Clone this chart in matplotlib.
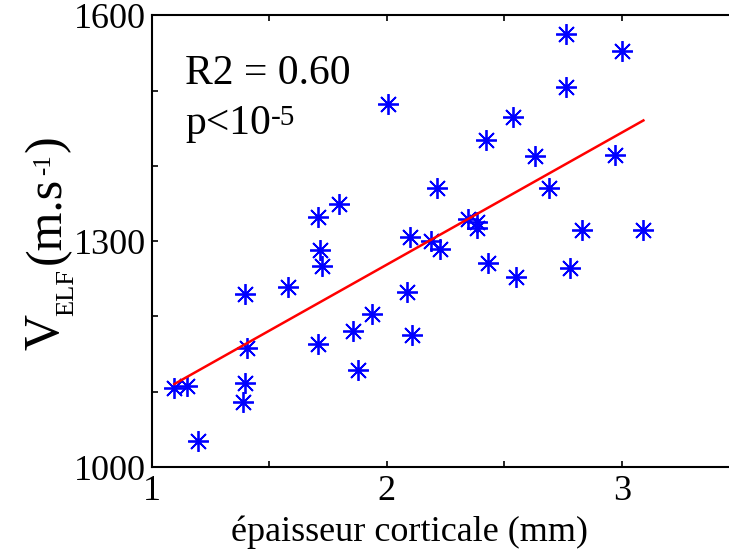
# Cortical thickness vs V_ELF scatter with linear fit

import numpy as np
import matplotlib
matplotlib.use('Agg')
import matplotlib.pyplot as plt
from matplotlib.transforms import IdentityTransform

plt.rcParams['font.family'] = ['Liberation Serif', 'DejaVu Serif']

# Data
epaisseur = [1.097, 1.150, 1.199, 1.398, 1.405, 1.398, 1.390, 1.579,
             1.716, 1.726, 1.709, 1.858, 1.939, 1.879, 2.085, 2.109,
             2.007, 1.709, 1.797, 2.099, 2.214, 2.190,
             2.761, 3.002, 2.761, 2.538, 2.421, 2.631, 2.971, 2.690,
             2.347, 2.383, 2.383, 2.832, 3.091, 2.227,
             2.429, 2.550, 2.779]
v_elf = [1105, 1108, 1035, 1230, 1158, 1112, 1086, 1239,
         1288, 1267, 1163, 1181, 1203, 1129, 1232, 1175,
         1482, 1332, 1349, 1306, 1371, 1300,
         1575, 1553, 1505, 1465, 1435, 1413, 1415, 1371,
         1330, 1326, 1317, 1315, 1315, 1290,
         1271, 1253, 1265]

x = np.array(epaisseur)
y = np.array(v_elf)

# Linear regression
coef = np.polyfit(x, y, 1)
x_fit = np.array([x.min(), x.max()])
y_fit = np.polyval(coef, x_fit)

fig = plt.figure(figsize=(7.291, 5.501), dpi=100)
ax = fig.add_axes([151.5 / 729, 83 / 550, 588 / 729, 451.5 / 550])

ax.plot(x, y, linestyle='none', marker=(8, 2, 0), markersize=15,
        markeredgewidth=1.3, color='blue')
ax.plot(x_fit, y_fit, color='red', linewidth=1.8)

ax.set_xlim(1, 3.5)
ax.set_ylim(1000, 1600)
ax.set_xticks(np.arange(1, 3.51, 0.5))
ax.set_xticklabels(['1', '', '2', '', '3', ''])
ax.set_yticks(np.arange(1000, 1601, 100))
ax.set_yticklabels(['1000', '', '', '1300', '', '', '1600'])
ax.tick_params(direction='in', length=4, width=1.2, labelsize=26,
               top=True, right=False)
ax.tick_params(axis='y', pad=4)
ax.tick_params(axis='x', pad=6)
for s in ax.spines.values():
    s.set_linewidth(1.5)
ax.spines['right'].set_visible(False)

# stats text
ax.text(0.057, 0.848, 'R2 = 0.60', transform=ax.transAxes, fontsize=30,
        va='baseline')
tp = ax.text(0.057, 0.7375, 'p<10', transform=ax.transAxes, fontsize=30,
             va='baseline')
ax.annotate('-5', xy=(1, 1), xycoords=tp, xytext=(0, 0),
            textcoords='offset points', fontsize=21, ha='left', va='top')

ax.set_xlabel('épaisseur corticale (mm)', fontsize=26)
ax.xaxis.set_label_coords(0.438, -0.107)

# y label built in pieces (big V, small ELF subscript, small -1 superscript)
# (text, baseline x px, start y px from top, size)
ylab_parts = [('V', 58, 350, 36), ('ELF', 73, 316, 19), ('(m.s', 60, 264, 36),
              ('-1', 50, 175, 18), (')', 60, 152, 36)]
for txt, bx, by, sz in ylab_parts:
    fig.text(bx, 550 - by, txt, fontsize=sz, rotation=90,
             rotation_mode='anchor', ha='left', va='baseline',
             transform=IdentityTransform())

plt.savefig('out.png', dpi=100)
